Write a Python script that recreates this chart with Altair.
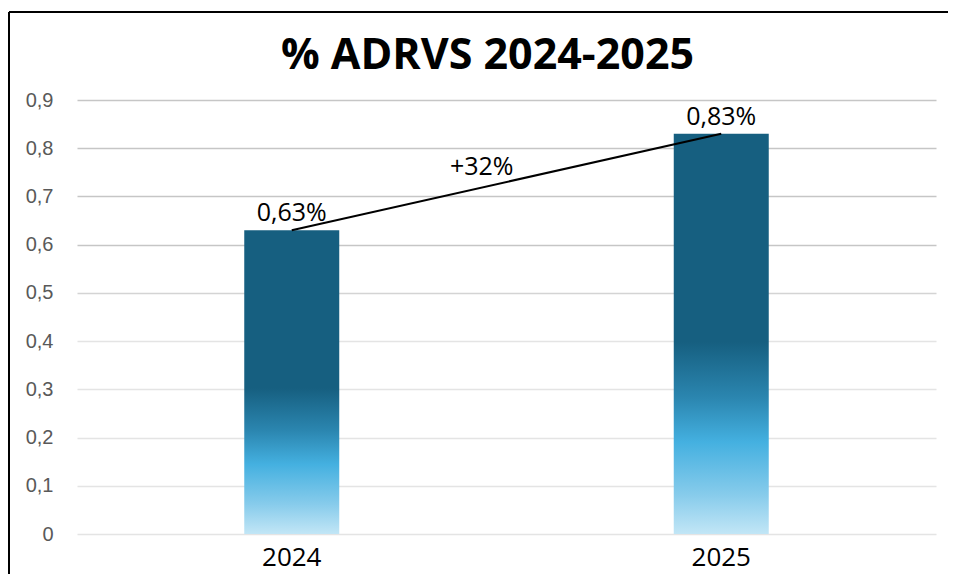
import altair as alt
import pandas as pd

years = ["2024", "2025"]
values = [0.63, 0.83]
value_labels = ["0,63%", "0,83%"]
change_label = "+32%"
y_ticks = [0, 0.1, 0.2, 0.3, 0.4, 0.5, 0.6, 0.7, 0.8, 0.9]
title_text = "% ADRVS 2024-2025"

df = pd.DataFrame({"year": years, "value": values, "label": value_labels})
mid_df = pd.DataFrame({"year": [years[0]], "value": [(values[0] + values[1]) / 2], "label": [change_label]})
title_df = pd.DataFrame({"t": [title_text]})

W, H = 859, 434
PAD = {"left": 69, "top": 92, "right": 12, "bottom": 40}

x_enc = alt.X(
    "year:N",
    scale=alt.Scale(domain=years, paddingInner=0, paddingOuter=0),
    axis=alt.Axis(title=None, labelAngle=0, domain=False, ticks=False, grid=False,
                  labelFont="Open Sans", labelFontSize=26, labelColor="#000000",
                  labelPadding=10),
)
y_enc = alt.Y(
    "value:Q",
    scale=alt.Scale(domain=[0, 0.9], nice=False, zero=True),
    axis=alt.Axis(title=None, values=y_ticks, domain=False, ticks=False,
                  labelFont="Liberation Sans", labelFontSize=20, labelColor="#595959",
                  labelPadding=24,
                  labelExpr="replace(format(datum.value, '.1~f'), '.', ',')",
                  gridWidth=1.5,
                  gridColor={"condition": [
                      {"test": "datum.value >= 0.55", "value": "#c6c6c6"},
                      {"test": "datum.value >= 0.45", "value": "#d4d4d4"}],
                      "value": "#e4e4e4"}),
)

grad = alt.Gradient(
    gradient="linear", x1=0, x2=0, y1=0, y2=1,
    stops=[
        alt.GradientStop(offset=0, color="#165F80"),
        alt.GradientStop(offset=0.52, color="#165F80"),
        alt.GradientStop(offset=0.66, color="#2B86B0"),
        alt.GradientStop(offset=0.77, color="#44B0E0"),
        alt.GradientStop(offset=0.9, color="#86CBEB"),
        alt.GradientStop(offset=1, color="#C2E6F6"),
    ],
)

base = alt.Chart(df)
bars = base.mark_bar(size=95, color=grad).encode(x=x_enc, y=y_enc)
line = base.mark_line(color="black", strokeWidth=2).encode(x=x_enc, y=y_enc)
bar_labels = base.mark_text(dy=-9, baseline="alphabetic", font="Open Sans", fontSize=25, color="#000000").encode(
    x=x_enc, y=y_enc, text="label:N")
change = alt.Chart(mid_df).mark_text(dx=190, dy=-7, baseline="alphabetic", font="Open Sans", fontSize=25, color="#000000").encode(
    x=x_enc, y=y_enc, text="label:N")

title = alt.Chart(title_df).mark_text(
    baseline="alphabetic", align="center", font="Open Sans", fontSize=43, fontWeight="bold", color="#000000"
).encode(x=alt.value(W / 2 - 19), y=alt.value(-31), text="t:N")

one = pd.DataFrame({"a": [0]})
border_left = alt.Chart(one).mark_rule(color="black", strokeWidth=2).encode(
    x=alt.value(-68), y=alt.value(-88), y2=alt.value(H + PAD["bottom"]))
border_top = alt.Chart(one).mark_rule(color="black", strokeWidth=2).encode(
    x=alt.value(-68), x2=alt.value(W + PAD["right"]), y=alt.value(-88))

chart = alt.layer(bars, line, bar_labels, change, title, border_left, border_top).properties(
    width=W, height=H, padding=PAD, autosize="none",
    background="white",
).configure_view(stroke=None)

chart.save("out.html", embed_options={"renderer": "svg", "actions": False})
